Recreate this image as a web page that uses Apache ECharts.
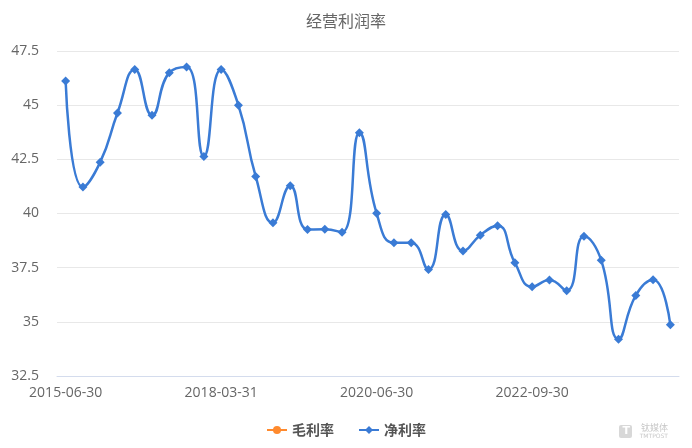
<!DOCTYPE html>
<html>
<head>
<meta charset="utf-8">
<script src="https://cdn.jsdelivr.net/npm/echarts@6/dist/echarts.min.js"></script>
<style>html,body{margin:0;padding:0;background:#fff}#c{width:692px;height:448px}</style>
</head>
<body>
<div id="c"></div>
<script>
var categories = [
  '2015-06-30','2015-12-31','2016-06-30','2016-09-30','2016-12-31','2017-03-31','2017-06-30','2017-09-30','2017-12-31',
  '2018-03-31','2018-06-30','2018-09-30','2018-12-31','2019-03-31','2019-06-30','2019-09-30','2019-12-31','2020-03-31',
  '2020-06-30','2020-09-30','2020-12-31','2021-03-31','2021-06-30','2021-09-30','2021-12-31','2022-03-31','2022-06-30',
  '2022-09-30','2022-12-31','2023-03-31','2023-06-30','2023-09-30','2023-12-31','2024-03-31','2024-06-30','2024-09-30'
];
var grossMargin = [];
var netMargin = [
  46.11, 41.22, 42.37, 44.64, 46.65, 44.53, 46.50, 46.76, 42.63,
  46.65, 45.00, 41.71, 39.57, 41.28, 39.26, 39.27, 39.14, 43.73,
  40.01, 38.65, 38.65, 37.41, 39.95, 38.27, 39.00, 39.44, 37.73,
  36.62, 36.93, 36.44, 38.95, 37.84, 34.20, 36.22, 36.94, 34.86
];
var yTicks = { min: 32.5, max: 47.5, interval: 2.5 };

var chart = echarts.init(document.getElementById('c'), null, { renderer: 'canvas' });
chart.setOption({
  animation: false,
  title: {
    text: '经营利润率', left: 'center', top: 8,
    textStyle: { fontSize: 16, fontWeight: 'normal', color: '#666', fontFamily: 'Noto Sans CJK SC' }
  },
  legend: {
    bottom: 6, left: 'center', itemGap: 24, itemWidth: 20, itemHeight: 10,
    textStyle: { fontSize: 14, fontWeight: 'bold', color: '#555', fontFamily: 'Noto Sans CJK SC' },
    data: ['毛利率', '净利率']
  },
  grid: { left: 57, right: 13, top: 51, bottom: 72 },
  xAxis: {
    type: 'category', data: categories, boundaryGap: true,
    axisLine: { lineStyle: { color: '#d4dced' } },
    axisTick: { alignWithLabel: true, interval: 8, lineStyle: { color: '#d4dced' } },
    axisLabel: { interval: 8, color: '#666', fontSize: 14, margin: 10, fontFamily: 'Open Sans' }
  },
  yAxis: {
    type: 'value', min: yTicks.min, max: yTicks.max, interval: yTicks.interval,
    axisLine: { show: false }, axisTick: { show: false },
    axisLabel: { color: '#666', fontSize: 14, margin: 18, fontFamily: 'Open Sans' },
    splitLine: { lineStyle: { color: '#e8e8e8' } }
  },
  series: [
    {
      name: '毛利率', type: 'line', data: grossMargin, symbol: 'circle', symbolSize: 8,
      itemStyle: { color: '#ff8a2e' }, lineStyle: { color: '#ff8a2e', width: 2 }
    },
    {
      name: '净利率', type: 'line', data: netMargin, smooth: true, symbol: 'diamond', symbolSize: 9,
      itemStyle: { color: '#3a7bd5' }, lineStyle: { color: '#3a7bd5', width: 2.5 }
    }
  ],
  graphic: [
    { type: 'rect', right: 60, bottom: 10, shape: { width: 13, height: 13, r: 2 }, style: { fill: '#d8d8d8' } },
    { type: 'text', right: 62, bottom: 11, style: { text: 'T', fontSize: 11, fontWeight: 'bold', fill: '#fff', fontFamily: 'DejaVu Sans' } },
    { type: 'text', right: 24, bottom: 16, style: { text: '钛媒体', fontSize: 9, fill: '#c8c8c8', fontFamily: 'Noto Sans CJK SC' } },
    { type: 'text', right: 24, bottom: 9, style: { text: 'TMTPOST', fontSize: 6, fill: '#c8c8c8', fontFamily: 'DejaVu Sans' } }
  ]
});
</script>
</body>
</html>
